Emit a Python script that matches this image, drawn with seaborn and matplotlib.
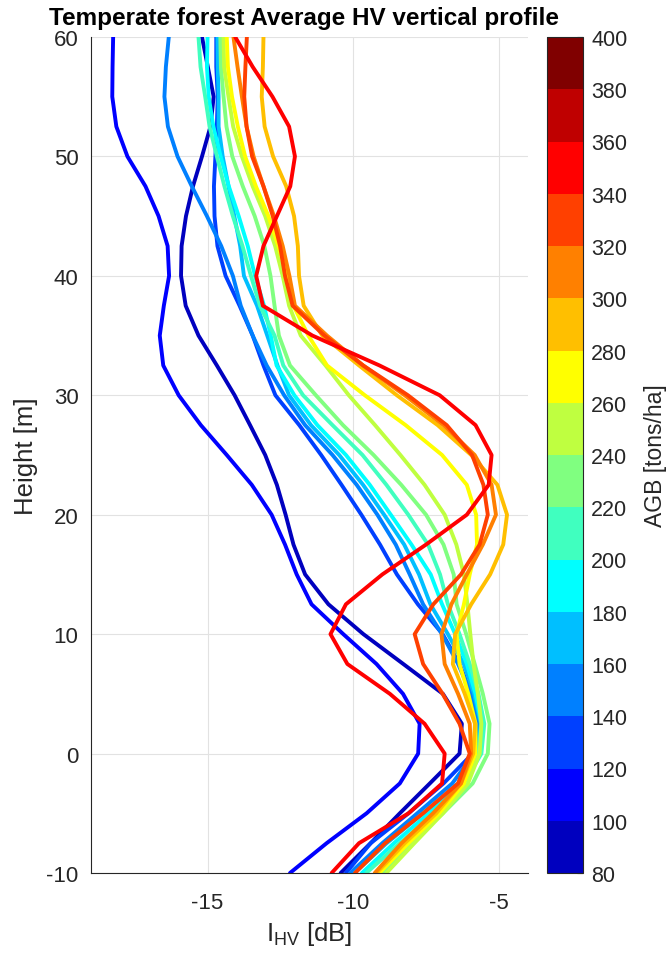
import numpy as np
import pandas as pd
import seaborn as sns
import matplotlib
matplotlib.use("Agg")
import matplotlib.pyplot as plt
from matplotlib.colors import ListedColormap, BoundaryNorm
from matplotlib.cm import ScalarMappable

sns.set_style("white")
plt.rcParams["font.family"] = ["Liberation Sans", "DejaVu Sans"]
plt.rcParams["mathtext.default"] = "regular"
plt.rcParams["axes.unicode_minus"] = False

# heights [m], top to bottom
heights = [60, 57.5, 55, 52.5, 50, 47.5, 45, 42.5, 40, 37.5, 35, 32.5, 30, 27.5, 25,
           22.5, 20, 17.5, 15, 12.5, 10, 7.5, 5, 2.5, 0, -2.5, -5, -7.5, -10]

# AGB class of each profile [tons/ha]
agb_levels = [90, 110, 130, 150, 170, 190, 210, 230, 250, 270, 290, 310, 330, 350]

# average HV intensity profiles [dB], one per AGB class
hv_090 = [-15.19, -14.99, -14.79, -14.90, -15.19, -15.50, -15.74, -15.89, -15.91, -15.75, -15.31, -14.68, -14.07, -13.54, -13.02,
          -12.62, -12.32, -12.05, -11.65, -10.85, -9.65, -8.28, -6.92, -6.27, -6.35, -7.37, -8.40, -9.40, -10.43]
hv_110 = [-18.24, -18.26, -18.27, -18.13, -17.75, -17.13, -16.68, -16.37, -16.32, -16.50, -16.64, -16.52, -15.99, -15.23, -14.34,
          -13.48, -12.80, -12.34, -11.94, -11.43, -10.34, -9.20, -8.29, -7.72, -7.77, -8.40, -9.54, -10.91, -12.17]
hv_130 = [-14.70, -14.70, -14.65, -14.68, -14.73, -14.78, -14.76, -14.66, -14.38, -13.90, -13.45, -13.08, -12.67, -11.85, -11.10,
          -10.40, -9.72, -9.08, -8.50, -7.78, -6.93, -6.35, -5.95, -5.66, -5.90, -6.90, -8.10, -9.40, -10.25]
hv_150 = [-16.33, -16.43, -16.48, -16.36, -16.03, -15.54, -15.02, -14.53, -14.13, -13.86, -13.45, -12.97, -12.37, -11.65, -10.71,
          -9.88, -9.17, -8.54, -8.06, -7.60, -6.95, -6.40, -5.95, -5.72, -5.85, -6.60, -7.80, -9.00, -10.10]
hv_170 = [-14.66, -14.65, -14.62, -14.62, -14.48, -14.28, -14.08, -13.88, -13.75, -13.30, -12.95, -12.60, -12.20, -11.45, -10.48,
          -9.66, -8.94, -8.25, -7.74, -7.35, -6.75, -6.20, -5.85, -5.62, -5.75, -6.40, -7.60, -8.85, -9.95]
hv_190 = [-15.00, -15.02, -14.96, -14.80, -14.55, -14.27, -13.93, -13.62, -13.37, -13.06, -12.83, -12.63, -12.02, -11.23, -10.25,
          -9.43, -8.71, -8.00, -7.34, -6.95, -6.50, -6.10, -5.80, -5.60, -5.70, -6.30, -7.40, -8.60, -9.70]
hv_210 = [-15.31, -15.24, -15.08, -14.93, -14.68, -14.42, -14.13, -13.80, -13.51, -13.20, -12.70, -12.40, -11.72, -10.71, -9.68,
          -8.86, -8.11, -7.43, -7.02, -6.75, -6.35, -6.00, -5.70, -5.50, -5.60, -6.20, -7.20, -8.40, -9.55]
hv_230 = [-14.56, -14.54, -14.45, -14.35, -14.15, -13.79, -13.38, -13.05, -12.84, -12.70, -12.55, -12.17, -11.28, -10.35, -9.30,
          -8.35, -7.50, -6.90, -6.55, -6.45, -6.12, -5.83, -5.55, -5.32, -5.38, -5.90, -6.92, -8.06, -8.97]
hv_250 = [-14.45, -14.43, -14.28, -14.12, -13.82, -13.45, -13.02, -12.68, -12.42, -12.20, -11.80, -10.95, -10.15, -9.25, -8.38,
          -7.55, -6.86, -6.46, -6.20, -6.08, -5.98, -5.87, -5.72, -5.60, -5.66, -6.06, -6.92, -7.90, -8.86]
hv_270 = [-14.34, -14.30, -14.16, -13.96, -13.71, -13.34, -12.91, -12.57, -12.27, -12.05, -11.54, -10.90, -9.60, -8.20, -6.95,
          -6.10, -5.78, -5.75, -6.00, -6.20, -6.45, -6.35, -6.05, -5.80, -5.80, -6.20, -7.05, -8.10, -9.10]
hv_290 = [-13.08, -13.10, -13.14, -13.04, -12.75, -12.30, -12.03, -11.90, -11.86, -11.70, -11.06, -9.80, -8.50, -7.10, -5.95,
          -5.05, -4.72, -4.85, -5.30, -5.95, -6.50, -6.58, -6.17, -5.82, -5.88, -6.30, -7.15, -8.23, -9.20]
hv_310 = [-14.11, -13.97, -13.82, -13.66, -13.42, -13.08, -12.72, -12.42, -12.19, -12.00, -10.90, -9.66, -8.23, -6.90, -5.83,
          -5.25, -5.10, -5.55, -6.10, -6.63, -6.97, -6.86, -6.40, -6.00, -5.95, -6.30, -7.26, -8.34, -9.26]
hv_330 = [-13.65, -13.70, -13.74, -13.66, -13.47, -13.08, -12.76, -12.51, -12.34, -12.08, -10.99, -9.66, -8.12, -6.79, -5.92,
          -5.53, -5.38, -5.66, -6.30, -7.25, -7.89, -7.60, -6.93, -6.35, -6.00, -6.40, -7.60, -8.90, -9.94]
hv_350 = [-14.05, -13.45, -12.77, -12.20, -12.00, -12.16, -12.62, -13.08, -13.33, -13.10, -11.40, -9.10, -7.03, -5.80, -5.25,
          -5.35, -6.10, -7.50, -9.00, -10.25, -10.78, -10.20, -8.74, -7.55, -6.86, -6.95, -8.10, -9.80, -10.74]

profiles = [hv_090, hv_110, hv_130, hv_150, hv_170, hv_190, hv_210,
            hv_230, hv_250, hv_270, hv_290, hv_310, hv_330, hv_350]

# colour bar classes
agb_edges = [80, 100, 120, 140, 160, 180, 200, 220, 240, 260, 280, 300, 320, 340, 360, 380, 400]
jet16 = [(0, 0, 0.75), (0, 0, 1), (0, 0.25, 1), (0, 0.5, 1), (0, 0.75, 1), (0, 1, 1),
         (0.25, 1, 0.75), (0.5, 1, 0.5), (0.75, 1, 0.25), (1, 1, 0), (1, 0.75, 0),
         (1, 0.5, 0), (1, 0.25, 0), (1, 0, 0), (0.75, 0, 0), (0.5, 0, 0)]

rows = []
for agb, prof in zip(agb_levels, profiles):
    for h, v in zip(heights, prof):
        rows.append({"AGB": agb, "height": h, "hv": v})
df = pd.DataFrame(rows)

cmap = ListedColormap(jet16)
norm = BoundaryNorm(agb_edges, cmap.N)
palette = {a: cmap(norm(a)) for a in agb_levels}

txt = "#262626"
fig = plt.figure(figsize=(6.66, 9.54), dpi=100)
ax = fig.add_axes([91 / 666, 80 / 954, 437 / 666, 836 / 954])

sns.lineplot(data=df, x="hv", y="height", hue="AGB", hue_order=agb_levels,
             palette=palette, sort=False, estimator=None, orient="y",
             linewidth=2.8, legend=False, ax=ax)

ax.set_xlim(-19, -4)
ax.set_ylim(-10, 60)
ax.set_xticks([-15, -10, -5])
ax.set_yticks([-10, 0, 10, 20, 30, 40, 50, 60])
ax.grid(True, color="#e2e2e2", linewidth=0.8)
ax.set_axisbelow(True)
for s in ["top", "right"]:
    ax.spines[s].set_visible(False)
for s in ["left", "bottom"]:
    ax.spines[s].set_color(txt)
    ax.spines[s].set_linewidth(0.8)
ax.tick_params(direction="in", length=5, width=0.8, colors=txt, labelsize=16)
ax.tick_params(axis="y", pad=9)
ax.tick_params(axis="x", pad=14)

fig.text(304 / 666, 1 - 19 / 954, "Temperate forest Average HV vertical profile",
         fontsize=17.5, fontweight="bold", color="black", ha="center", va="center")
ax.set_xlabel("I$_{HV}$ [dB]", fontsize=18.5, color=txt, labelpad=4)
ax.set_ylabel("Height [m]", fontsize=18.5, color=txt, labelpad=6)

cax = fig.add_axes([547 / 666, 80 / 954, 36 / 666, 836 / 954])
cb = fig.colorbar(ScalarMappable(norm=norm, cmap=cmap), cax=cax, ticks=agb_edges)
cb.outline.set_edgecolor(txt)
cb.outline.set_linewidth(0.8)
cb.ax.tick_params(direction="in", length=4, width=0.8, colors=txt, labelsize=15.5, pad=6)
cb.set_label("AGB [tons/ha]", fontsize=16.5, color=txt, labelpad=12)

fig.savefig("out.png", dpi=100)
